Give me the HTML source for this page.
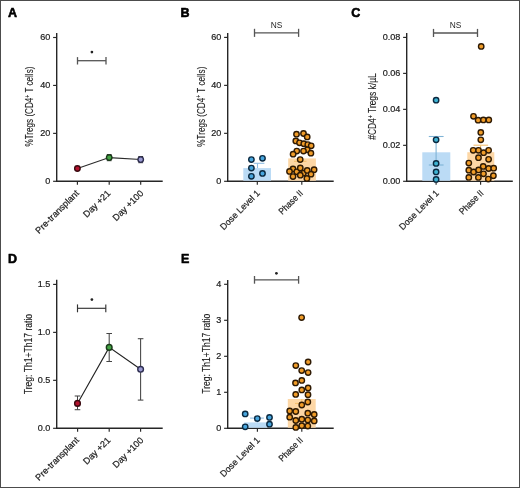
<!DOCTYPE html>
<html><head><meta charset="utf-8"><style>
html,body{margin:0;padding:0;background:#fff;}
body{width:520px;height:488px;overflow:hidden;position:relative;}
svg{position:absolute;left:0;top:0;will-change:transform;}
text{font-family:"Liberation Sans",sans-serif;}
.t{stroke:#1c1c1c;stroke-width:0.22px;}
.ty{stroke:#1c1c1c;stroke-width:0.12px;}
.frame{position:absolute;left:0;top:0;width:518px;height:486px;border:1px solid #4c4c4c;}
</style></head><body>
<svg width="520" height="488" viewBox="0 0 520 488">
<text x="7.9" y="16.7" font-size="12.5" font-weight="bold" fill="#000" stroke="#000" stroke-width="0.6" stroke-linejoin="round">A</text>
<text x="180.5" y="16.5" font-size="12.5" font-weight="bold" fill="#000" stroke="#000" stroke-width="0.6" stroke-linejoin="round">B</text>
<text x="351.3" y="16.6" font-size="12.5" font-weight="bold" fill="#000" stroke="#000" stroke-width="0.6" stroke-linejoin="round">C</text>
<text x="8.1" y="263.3" font-size="12.5" font-weight="bold" fill="#000" stroke="#000" stroke-width="0.6" stroke-linejoin="round">D</text>
<text x="180.9" y="263.3" font-size="12.5" font-weight="bold" fill="#000" stroke="#000" stroke-width="0.6" stroke-linejoin="round">E</text>
<line x1="56.70" y1="32.90" x2="56.70" y2="182.00" stroke="#262626" stroke-width="1.4" />
<line x1="56.00" y1="181.30" x2="162.70" y2="181.30" stroke="#262626" stroke-width="1.4" />
<line x1="53.10" y1="37.50" x2="56.70" y2="37.50" stroke="#262626" stroke-width="1.15" />
<text class="t" x="50.40" y="40.45" font-size="9.8" text-anchor="end" fill="#1c1c1c" font-weight="normal" textLength="10.12" lengthAdjust="spacingAndGlyphs" >60</text>
<line x1="53.10" y1="85.43" x2="56.70" y2="85.43" stroke="#262626" stroke-width="1.15" />
<text class="t" x="50.40" y="88.38" font-size="9.8" text-anchor="end" fill="#1c1c1c" font-weight="normal" textLength="10.12" lengthAdjust="spacingAndGlyphs" >40</text>
<line x1="53.10" y1="133.37" x2="56.70" y2="133.37" stroke="#262626" stroke-width="1.15" />
<text class="t" x="50.40" y="136.32" font-size="9.8" text-anchor="end" fill="#1c1c1c" font-weight="normal" textLength="10.12" lengthAdjust="spacingAndGlyphs" >20</text>
<line x1="53.10" y1="181.30" x2="56.70" y2="181.30" stroke="#262626" stroke-width="1.15" />
<text class="t" x="50.40" y="184.25" font-size="9.8" text-anchor="end" fill="#1c1c1c" font-weight="normal" textLength="5.06" lengthAdjust="spacingAndGlyphs" >0</text>
<line x1="77.40" y1="181.30" x2="77.40" y2="184.80" stroke="#262626" stroke-width="1.15" />
<line x1="109.20" y1="181.30" x2="109.20" y2="184.80" stroke="#262626" stroke-width="1.15" />
<line x1="140.70" y1="181.30" x2="140.70" y2="184.80" stroke="#262626" stroke-width="1.15" />
<text class="ty" transform="translate(33.40,106.55) rotate(-90)" font-size="10.3" text-anchor="middle" fill="#1c1c1c" textLength="80" lengthAdjust="spacingAndGlyphs">%Tregs (CD4<tspan font-size="6.5" dy="-3.2">+</tspan><tspan dy="3.2"> T cells)</tspan></text>
<line x1="77.50" y1="60.70" x2="106.00" y2="60.70" stroke="#555" stroke-width="1.3" />
<line x1="77.50" y1="57.10" x2="77.50" y2="64.50" stroke="#555" stroke-width="1.3" />
<line x1="106.00" y1="57.10" x2="106.00" y2="64.50" stroke="#555" stroke-width="1.3" />
<circle cx="91.9" cy="52.1" r="1.35" fill="#222"/>
<polyline points="77.4,168.5 109.2,157.6 140.7,159.5" fill="none" stroke="#2a2a2a" stroke-width="1.1"/>
<line x1="109.20" y1="154.50" x2="109.20" y2="160.70" stroke="#333" stroke-width="1" />
<line x1="106.80" y1="154.50" x2="111.60" y2="154.50" stroke="#333" stroke-width="1" />
<line x1="106.80" y1="160.70" x2="111.60" y2="160.70" stroke="#333" stroke-width="1" />
<line x1="140.70" y1="156.50" x2="140.70" y2="162.70" stroke="#333" stroke-width="1" />
<line x1="138.30" y1="156.50" x2="143.10" y2="156.50" stroke="#333" stroke-width="1" />
<line x1="138.30" y1="162.70" x2="143.10" y2="162.70" stroke="#333" stroke-width="1" />
<circle cx="77.40" cy="168.50" r="2.75" fill="#b4122e" stroke="#3a0a10" stroke-width="1.4"/>
<circle cx="109.20" cy="157.60" r="2.75" fill="#44a444" stroke="#1a3a1a" stroke-width="1.4"/>
<circle cx="140.70" cy="159.60" r="2.75" fill="#9a9ad2" stroke="#2e2e50" stroke-width="1.4"/>
<line x1="227.70" y1="32.90" x2="227.70" y2="182.00" stroke="#262626" stroke-width="1.4" />
<line x1="227.00" y1="181.30" x2="333.70" y2="181.30" stroke="#262626" stroke-width="1.4" />
<line x1="224.10" y1="37.40" x2="227.70" y2="37.40" stroke="#262626" stroke-width="1.15" />
<text class="t" x="221.40" y="40.35" font-size="9.8" text-anchor="end" fill="#1c1c1c" font-weight="normal" textLength="10.12" lengthAdjust="spacingAndGlyphs" >60</text>
<line x1="224.10" y1="85.37" x2="227.70" y2="85.37" stroke="#262626" stroke-width="1.15" />
<text class="t" x="221.40" y="88.32" font-size="9.8" text-anchor="end" fill="#1c1c1c" font-weight="normal" textLength="10.12" lengthAdjust="spacingAndGlyphs" >40</text>
<line x1="224.10" y1="133.33" x2="227.70" y2="133.33" stroke="#262626" stroke-width="1.15" />
<text class="t" x="221.40" y="136.28" font-size="9.8" text-anchor="end" fill="#1c1c1c" font-weight="normal" textLength="10.12" lengthAdjust="spacingAndGlyphs" >20</text>
<line x1="224.10" y1="181.30" x2="227.70" y2="181.30" stroke="#262626" stroke-width="1.15" />
<text class="t" x="221.40" y="184.25" font-size="9.8" text-anchor="end" fill="#1c1c1c" font-weight="normal" textLength="5.06" lengthAdjust="spacingAndGlyphs" >0</text>
<line x1="257.30" y1="181.30" x2="257.30" y2="184.80" stroke="#262626" stroke-width="1.15" />
<line x1="301.80" y1="181.30" x2="301.80" y2="184.80" stroke="#262626" stroke-width="1.15" />
<text class="ty" transform="translate(204.60,106.65) rotate(-90)" font-size="10.3" text-anchor="middle" fill="#1c1c1c" textLength="80" lengthAdjust="spacingAndGlyphs">%Tregs (CD4<tspan font-size="6.5" dy="-3.2">+</tspan><tspan dy="3.2"> T cells)</tspan></text>
<rect x="243.3" y="168.1" width="27.7" height="12.6" fill="#bbdbf5"/>
<rect x="288.2" y="158.4" width="27.7" height="22.3" fill="#fdd7a6"/>
<line x1="257.50" y1="163.30" x2="257.50" y2="168.10" stroke="#8fbde3" stroke-width="1.1" />
<line x1="253.70" y1="163.30" x2="264.40" y2="163.30" stroke="#8fbde3" stroke-width="1.1" />
<line x1="300.20" y1="158.40" x2="300.20" y2="161.30" stroke="#f4bf6a" stroke-width="1.0" />
<line x1="294.00" y1="161.30" x2="306.50" y2="161.30" stroke="#f4bf6a" stroke-width="1.0" />
<circle cx="251.40" cy="159.60" r="2.7" fill="#48a6de" stroke="#0b2940" stroke-width="1.4"/>
<circle cx="262.50" cy="158.30" r="2.7" fill="#48a6de" stroke="#0b2940" stroke-width="1.4"/>
<circle cx="251.40" cy="168.10" r="2.7" fill="#48a6de" stroke="#0b2940" stroke-width="1.4"/>
<circle cx="262.50" cy="173.40" r="2.7" fill="#48a6de" stroke="#0b2940" stroke-width="1.4"/>
<circle cx="251.40" cy="176.30" r="2.7" fill="#48a6de" stroke="#0b2940" stroke-width="1.4"/>
<circle cx="296.50" cy="134.20" r="2.7" fill="#f09c28" stroke="#2e1a04" stroke-width="1.4"/>
<circle cx="303.50" cy="133.50" r="2.7" fill="#f09c28" stroke="#2e1a04" stroke-width="1.4"/>
<circle cx="307.20" cy="136.90" r="2.7" fill="#f09c28" stroke="#2e1a04" stroke-width="1.4"/>
<circle cx="295.80" cy="140.90" r="2.7" fill="#f09c28" stroke="#2e1a04" stroke-width="1.4"/>
<circle cx="299.50" cy="142.80" r="2.7" fill="#f09c28" stroke="#2e1a04" stroke-width="1.4"/>
<circle cx="303.80" cy="143.70" r="2.7" fill="#f09c28" stroke="#2e1a04" stroke-width="1.4"/>
<circle cx="307.80" cy="144.60" r="2.7" fill="#f09c28" stroke="#2e1a04" stroke-width="1.4"/>
<circle cx="311.20" cy="145.80" r="2.7" fill="#f09c28" stroke="#2e1a04" stroke-width="1.4"/>
<circle cx="307.20" cy="149.80" r="2.7" fill="#f09c28" stroke="#2e1a04" stroke-width="1.4"/>
<circle cx="296.80" cy="151.10" r="2.7" fill="#f09c28" stroke="#2e1a04" stroke-width="1.4"/>
<circle cx="293.10" cy="154.20" r="2.7" fill="#f09c28" stroke="#2e1a04" stroke-width="1.4"/>
<circle cx="303.50" cy="151.10" r="2.7" fill="#f09c28" stroke="#2e1a04" stroke-width="1.4"/>
<circle cx="310.90" cy="153.20" r="2.7" fill="#f09c28" stroke="#2e1a04" stroke-width="1.4"/>
<circle cx="300.20" cy="159.60" r="2.7" fill="#f09c28" stroke="#2e1a04" stroke-width="1.4"/>
<circle cx="293.00" cy="169.00" r="2.7" fill="#f09c28" stroke="#2e1a04" stroke-width="1.4"/>
<circle cx="289.50" cy="171.40" r="2.7" fill="#f09c28" stroke="#2e1a04" stroke-width="1.4"/>
<circle cx="296.80" cy="171.80" r="2.7" fill="#f09c28" stroke="#2e1a04" stroke-width="1.4"/>
<circle cx="300.30" cy="168.00" r="2.7" fill="#f09c28" stroke="#2e1a04" stroke-width="1.4"/>
<circle cx="303.40" cy="173.20" r="2.7" fill="#f09c28" stroke="#2e1a04" stroke-width="1.4"/>
<circle cx="293.00" cy="176.60" r="2.7" fill="#f09c28" stroke="#2e1a04" stroke-width="1.4"/>
<circle cx="300.30" cy="175.20" r="2.7" fill="#f09c28" stroke="#2e1a04" stroke-width="1.4"/>
<circle cx="307.20" cy="170.40" r="2.7" fill="#f09c28" stroke="#2e1a04" stroke-width="1.4"/>
<circle cx="314.10" cy="169.70" r="2.7" fill="#f09c28" stroke="#2e1a04" stroke-width="1.4"/>
<circle cx="311.00" cy="174.20" r="2.7" fill="#f09c28" stroke="#2e1a04" stroke-width="1.4"/>
<circle cx="306.90" cy="178.40" r="2.7" fill="#f09c28" stroke="#2e1a04" stroke-width="1.4"/>
<line x1="254.50" y1="32.90" x2="298.60" y2="32.90" stroke="#555" stroke-width="1.3" />
<line x1="254.50" y1="28.80" x2="254.50" y2="36.90" stroke="#555" stroke-width="1.3" />
<line x1="298.60" y1="28.80" x2="298.60" y2="36.90" stroke="#555" stroke-width="1.3" />
<text x="276.5" y="28.1" font-size="9.0" text-anchor="middle" fill="#1e1e1e" textLength="11.6" lengthAdjust="spacingAndGlyphs">NS</text>
<line x1="406.70" y1="32.90" x2="406.70" y2="182.00" stroke="#262626" stroke-width="1.4" />
<line x1="406.00" y1="181.30" x2="512.80" y2="181.30" stroke="#262626" stroke-width="1.4" />
<line x1="403.10" y1="37.40" x2="406.70" y2="37.40" stroke="#262626" stroke-width="1.15" />
<text class="t" x="400.40" y="40.35" font-size="9.8" text-anchor="end" fill="#1c1c1c" font-weight="normal" textLength="17.71" lengthAdjust="spacingAndGlyphs" >0.08</text>
<line x1="403.10" y1="73.38" x2="406.70" y2="73.38" stroke="#262626" stroke-width="1.15" />
<text class="t" x="400.40" y="76.33" font-size="9.8" text-anchor="end" fill="#1c1c1c" font-weight="normal" textLength="17.71" lengthAdjust="spacingAndGlyphs" >0.06</text>
<line x1="403.10" y1="109.35" x2="406.70" y2="109.35" stroke="#262626" stroke-width="1.15" />
<text class="t" x="400.40" y="112.30" font-size="9.8" text-anchor="end" fill="#1c1c1c" font-weight="normal" textLength="17.71" lengthAdjust="spacingAndGlyphs" >0.04</text>
<line x1="403.10" y1="145.33" x2="406.70" y2="145.33" stroke="#262626" stroke-width="1.15" />
<text class="t" x="400.40" y="148.28" font-size="9.8" text-anchor="end" fill="#1c1c1c" font-weight="normal" textLength="17.71" lengthAdjust="spacingAndGlyphs" >0.02</text>
<line x1="403.10" y1="181.30" x2="406.70" y2="181.30" stroke="#262626" stroke-width="1.15" />
<text class="t" x="400.40" y="184.25" font-size="9.8" text-anchor="end" fill="#1c1c1c" font-weight="normal" textLength="17.71" lengthAdjust="spacingAndGlyphs" >0.00</text>
<line x1="436.10" y1="181.30" x2="436.10" y2="184.80" stroke="#262626" stroke-width="1.15" />
<line x1="480.60" y1="181.30" x2="480.60" y2="184.80" stroke="#262626" stroke-width="1.15" />
<text class="ty" transform="translate(376.00,106.55) rotate(-90)" font-size="10.3" text-anchor="middle" fill="#1c1c1c" textLength="66.5" lengthAdjust="spacingAndGlyphs">#CD4<tspan font-size="6.5" dy="-3.2">+</tspan><tspan dy="3.2"> Tregs k/µL</tspan></text>
<rect x="422.3" y="152.3" width="28" height="28.4" fill="#bbdbf5"/>
<rect x="467.3" y="152.2" width="27" height="28.5" fill="#fdd7a6"/>
<line x1="436.10" y1="136.50" x2="436.10" y2="165.00" stroke="#7fb3d6" stroke-width="1.1" />
<line x1="428.80" y1="136.50" x2="443.60" y2="136.50" stroke="#7fb3d6" stroke-width="1.1" />
<line x1="428.80" y1="165.00" x2="443.60" y2="165.00" stroke="#7fb3d6" stroke-width="1.1" />
<line x1="480.60" y1="145.20" x2="480.60" y2="152.20" stroke="#f5c070" stroke-width="1.1" />
<line x1="473.50" y1="145.20" x2="488.10" y2="145.20" stroke="#f5c070" stroke-width="1.1" />
<circle cx="436.10" cy="100.20" r="2.7" fill="#3eb3d3" stroke="#0b2940" stroke-width="1.4"/>
<circle cx="436.10" cy="139.80" r="2.7" fill="#3eb3d3" stroke="#0b2940" stroke-width="1.4"/>
<circle cx="436.10" cy="163.40" r="2.7" fill="#3eb3d3" stroke="#0b2940" stroke-width="1.4"/>
<circle cx="436.10" cy="171.90" r="2.7" fill="#3eb3d3" stroke="#0b2940" stroke-width="1.4"/>
<circle cx="436.10" cy="179.40" r="2.7" fill="#3eb3d3" stroke="#0b2940" stroke-width="1.4"/>
<circle cx="481.20" cy="46.40" r="2.7" fill="#f09c28" stroke="#2e1a04" stroke-width="1.4"/>
<circle cx="473.50" cy="116.30" r="2.7" fill="#f09c28" stroke="#2e1a04" stroke-width="1.4"/>
<circle cx="478.10" cy="120.20" r="2.7" fill="#f09c28" stroke="#2e1a04" stroke-width="1.4"/>
<circle cx="483.40" cy="119.90" r="2.7" fill="#f09c28" stroke="#2e1a04" stroke-width="1.4"/>
<circle cx="488.80" cy="119.90" r="2.7" fill="#f09c28" stroke="#2e1a04" stroke-width="1.4"/>
<circle cx="480.80" cy="132.40" r="2.7" fill="#f09c28" stroke="#2e1a04" stroke-width="1.4"/>
<circle cx="480.80" cy="139.80" r="2.7" fill="#f09c28" stroke="#2e1a04" stroke-width="1.4"/>
<circle cx="473.20" cy="150.30" r="2.7" fill="#f09c28" stroke="#2e1a04" stroke-width="1.4"/>
<circle cx="478.50" cy="150.30" r="2.7" fill="#f09c28" stroke="#2e1a04" stroke-width="1.4"/>
<circle cx="483.60" cy="152.70" r="2.7" fill="#f09c28" stroke="#2e1a04" stroke-width="1.4"/>
<circle cx="488.60" cy="150.30" r="2.7" fill="#f09c28" stroke="#2e1a04" stroke-width="1.4"/>
<circle cx="478.50" cy="157.70" r="2.7" fill="#f09c28" stroke="#2e1a04" stroke-width="1.4"/>
<circle cx="488.60" cy="159.30" r="2.7" fill="#f09c28" stroke="#2e1a04" stroke-width="1.4"/>
<circle cx="468.80" cy="163.10" r="2.7" fill="#f09c28" stroke="#2e1a04" stroke-width="1.4"/>
<circle cx="483.20" cy="166.40" r="2.7" fill="#f09c28" stroke="#2e1a04" stroke-width="1.4"/>
<circle cx="488.60" cy="168.50" r="2.7" fill="#f09c28" stroke="#2e1a04" stroke-width="1.4"/>
<circle cx="493.70" cy="168.20" r="2.7" fill="#f09c28" stroke="#2e1a04" stroke-width="1.4"/>
<circle cx="468.80" cy="170.20" r="2.7" fill="#f09c28" stroke="#2e1a04" stroke-width="1.4"/>
<circle cx="473.60" cy="172.00" r="2.7" fill="#f09c28" stroke="#2e1a04" stroke-width="1.4"/>
<circle cx="478.60" cy="169.90" r="2.7" fill="#f09c28" stroke="#2e1a04" stroke-width="1.4"/>
<circle cx="483.50" cy="173.80" r="2.7" fill="#f09c28" stroke="#2e1a04" stroke-width="1.4"/>
<circle cx="493.40" cy="175.70" r="2.7" fill="#f09c28" stroke="#2e1a04" stroke-width="1.4"/>
<circle cx="468.80" cy="177.40" r="2.7" fill="#f09c28" stroke="#2e1a04" stroke-width="1.4"/>
<circle cx="478.40" cy="177.40" r="2.7" fill="#f09c28" stroke="#2e1a04" stroke-width="1.4"/>
<circle cx="488.30" cy="179.10" r="2.7" fill="#f09c28" stroke="#2e1a04" stroke-width="1.4"/>
<line x1="433.50" y1="33.00" x2="477.50" y2="33.00" stroke="#555" stroke-width="1.3" />
<line x1="433.50" y1="28.90" x2="433.50" y2="37.00" stroke="#555" stroke-width="1.3" />
<line x1="477.50" y1="28.90" x2="477.50" y2="37.00" stroke="#555" stroke-width="1.3" />
<text x="455.5" y="28.1" font-size="9.0" text-anchor="middle" fill="#1e1e1e" textLength="11.6" lengthAdjust="spacingAndGlyphs">NS</text>
<line x1="56.70" y1="279.80" x2="56.70" y2="429.00" stroke="#262626" stroke-width="1.4" />
<line x1="56.00" y1="428.30" x2="162.70" y2="428.30" stroke="#262626" stroke-width="1.4" />
<line x1="53.10" y1="284.40" x2="56.70" y2="284.40" stroke="#262626" stroke-width="1.15" />
<text class="t" x="50.40" y="287.35" font-size="9.8" text-anchor="end" fill="#1c1c1c" font-weight="normal" textLength="12.65" lengthAdjust="spacingAndGlyphs" >1.5</text>
<line x1="53.10" y1="332.37" x2="56.70" y2="332.37" stroke="#262626" stroke-width="1.15" />
<text class="t" x="50.40" y="335.32" font-size="9.8" text-anchor="end" fill="#1c1c1c" font-weight="normal" textLength="12.65" lengthAdjust="spacingAndGlyphs" >1.0</text>
<line x1="53.10" y1="380.33" x2="56.70" y2="380.33" stroke="#262626" stroke-width="1.15" />
<text class="t" x="50.40" y="383.28" font-size="9.8" text-anchor="end" fill="#1c1c1c" font-weight="normal" textLength="12.65" lengthAdjust="spacingAndGlyphs" >0.5</text>
<line x1="53.10" y1="428.30" x2="56.70" y2="428.30" stroke="#262626" stroke-width="1.15" />
<text class="t" x="50.40" y="431.25" font-size="9.8" text-anchor="end" fill="#1c1c1c" font-weight="normal" textLength="12.65" lengthAdjust="spacingAndGlyphs" >0.0</text>
<line x1="77.60" y1="428.30" x2="77.60" y2="431.80" stroke="#262626" stroke-width="1.15" />
<line x1="109.20" y1="428.30" x2="109.20" y2="431.80" stroke="#262626" stroke-width="1.15" />
<line x1="140.60" y1="428.30" x2="140.60" y2="431.80" stroke="#262626" stroke-width="1.15" />
<text class="ty" transform="translate(31.80,354.10) rotate(-90)" font-size="10.3" text-anchor="middle" fill="#1c1c1c" textLength="80.4" lengthAdjust="spacingAndGlyphs">Treg: Th1+Th17 ratio</text>
<line x1="77.50" y1="308.30" x2="105.80" y2="308.30" stroke="#333" stroke-width="1.15" />
<line x1="77.50" y1="304.40" x2="77.50" y2="312.30" stroke="#333" stroke-width="1.15" />
<line x1="105.80" y1="304.40" x2="105.80" y2="312.30" stroke="#333" stroke-width="1.15" />
<circle cx="91.9" cy="299.6" r="1.35" fill="#222"/>
<polyline points="77.5,403.4 109.2,347.4 140.6,369.3" fill="none" stroke="#222" stroke-width="1.1"/>
<line x1="77.50" y1="396.00" x2="77.50" y2="409.70" stroke="#444" stroke-width="1.05" />
<line x1="74.70" y1="396.00" x2="80.30" y2="396.00" stroke="#444" stroke-width="1.05" />
<line x1="74.70" y1="409.70" x2="80.30" y2="409.70" stroke="#444" stroke-width="1.05" />
<line x1="109.20" y1="333.50" x2="109.20" y2="361.50" stroke="#444" stroke-width="1.05" />
<line x1="106.40" y1="333.50" x2="112.00" y2="333.50" stroke="#444" stroke-width="1.05" />
<line x1="106.40" y1="361.50" x2="112.00" y2="361.50" stroke="#444" stroke-width="1.05" />
<line x1="140.60" y1="338.70" x2="140.60" y2="400.10" stroke="#444" stroke-width="1.05" />
<line x1="137.80" y1="338.70" x2="143.40" y2="338.70" stroke="#444" stroke-width="1.05" />
<line x1="137.80" y1="400.10" x2="143.40" y2="400.10" stroke="#444" stroke-width="1.05" />
<circle cx="77.50" cy="403.40" r="2.85" fill="#b4122e" stroke="#3a0a10" stroke-width="1.4"/>
<circle cx="109.20" cy="347.40" r="2.85" fill="#44a444" stroke="#1a3a1a" stroke-width="1.4"/>
<circle cx="140.60" cy="369.30" r="2.85" fill="#9a9ad2" stroke="#2e2e50" stroke-width="1.4"/>
<line x1="227.70" y1="279.90" x2="227.70" y2="429.00" stroke="#262626" stroke-width="1.4" />
<line x1="227.00" y1="428.30" x2="333.70" y2="428.30" stroke="#262626" stroke-width="1.4" />
<line x1="224.10" y1="284.30" x2="227.70" y2="284.30" stroke="#262626" stroke-width="1.15" />
<text class="t" x="221.40" y="287.25" font-size="9.8" text-anchor="end" fill="#1c1c1c" font-weight="normal" textLength="5.06" lengthAdjust="spacingAndGlyphs" >4</text>
<line x1="224.10" y1="320.30" x2="227.70" y2="320.30" stroke="#262626" stroke-width="1.15" />
<text class="t" x="221.40" y="323.25" font-size="9.8" text-anchor="end" fill="#1c1c1c" font-weight="normal" textLength="5.06" lengthAdjust="spacingAndGlyphs" >3</text>
<line x1="224.10" y1="356.30" x2="227.70" y2="356.30" stroke="#262626" stroke-width="1.15" />
<text class="t" x="221.40" y="359.25" font-size="9.8" text-anchor="end" fill="#1c1c1c" font-weight="normal" textLength="5.06" lengthAdjust="spacingAndGlyphs" >2</text>
<line x1="224.10" y1="392.30" x2="227.70" y2="392.30" stroke="#262626" stroke-width="1.15" />
<text class="t" x="221.40" y="395.25" font-size="9.8" text-anchor="end" fill="#1c1c1c" font-weight="normal" textLength="5.06" lengthAdjust="spacingAndGlyphs" >1</text>
<line x1="224.10" y1="428.30" x2="227.70" y2="428.30" stroke="#262626" stroke-width="1.15" />
<text class="t" x="221.40" y="431.25" font-size="9.8" text-anchor="end" fill="#1c1c1c" font-weight="normal" textLength="5.06" lengthAdjust="spacingAndGlyphs" >0</text>
<line x1="257.40" y1="428.30" x2="257.40" y2="431.80" stroke="#262626" stroke-width="1.15" />
<line x1="301.80" y1="428.30" x2="301.80" y2="431.80" stroke="#262626" stroke-width="1.15" />
<text class="ty" transform="translate(209.60,353.75) rotate(-90)" font-size="10.3" text-anchor="middle" fill="#1c1c1c" textLength="80" lengthAdjust="spacingAndGlyphs">Treg: Th1+Th17 ratio</text>
<line x1="254.50" y1="279.80" x2="298.60" y2="279.80" stroke="#555" stroke-width="1.3" />
<line x1="254.50" y1="276.00" x2="254.50" y2="283.70" stroke="#555" stroke-width="1.3" />
<line x1="298.60" y1="276.00" x2="298.60" y2="283.70" stroke="#555" stroke-width="1.3" />
<circle cx="276.4" cy="273.3" r="1.35" fill="#222"/>
<rect x="244.2" y="422.4" width="22.8" height="5.3" fill="#bbdbf5"/>
<rect x="287.8" y="399.0" width="27.9" height="28.7" fill="#fdd7a6"/>
<line x1="250.10" y1="418.10" x2="263.90" y2="418.10" stroke="#8fbde3" stroke-width="1.1" />
<line x1="257.30" y1="418.10" x2="257.30" y2="422.40" stroke="#8fbde3" stroke-width="1.1" />
<line x1="301.80" y1="399.00" x2="301.80" y2="403.40" stroke="#f4bf6a" stroke-width="1.0" />
<line x1="295.00" y1="403.40" x2="308.60" y2="403.40" stroke="#f4bf6a" stroke-width="1.0" />
<circle cx="245.20" cy="413.90" r="2.7" fill="#48a6de" stroke="#0b2940" stroke-width="1.4"/>
<circle cx="257.30" cy="418.60" r="2.7" fill="#48a6de" stroke="#0b2940" stroke-width="1.4"/>
<circle cx="269.50" cy="417.40" r="2.7" fill="#48a6de" stroke="#0b2940" stroke-width="1.4"/>
<circle cx="269.50" cy="424.20" r="2.7" fill="#48a6de" stroke="#0b2940" stroke-width="1.4"/>
<circle cx="245.20" cy="426.80" r="2.7" fill="#48a6de" stroke="#0b2940" stroke-width="1.4"/>
<circle cx="301.60" cy="317.60" r="2.7" fill="#f09c28" stroke="#2e1a04" stroke-width="1.4"/>
<circle cx="308.10" cy="362.00" r="2.7" fill="#f09c28" stroke="#2e1a04" stroke-width="1.4"/>
<circle cx="295.80" cy="365.60" r="2.7" fill="#f09c28" stroke="#2e1a04" stroke-width="1.4"/>
<circle cx="301.70" cy="370.60" r="2.7" fill="#f09c28" stroke="#2e1a04" stroke-width="1.4"/>
<circle cx="308.10" cy="372.60" r="2.7" fill="#f09c28" stroke="#2e1a04" stroke-width="1.4"/>
<circle cx="301.80" cy="380.40" r="2.7" fill="#f09c28" stroke="#2e1a04" stroke-width="1.4"/>
<circle cx="295.50" cy="382.90" r="2.7" fill="#f09c28" stroke="#2e1a04" stroke-width="1.4"/>
<circle cx="301.80" cy="389.90" r="2.7" fill="#f09c28" stroke="#2e1a04" stroke-width="1.4"/>
<circle cx="308.10" cy="388.00" r="2.7" fill="#f09c28" stroke="#2e1a04" stroke-width="1.4"/>
<circle cx="295.70" cy="394.40" r="2.7" fill="#f09c28" stroke="#2e1a04" stroke-width="1.4"/>
<circle cx="308.00" cy="394.70" r="2.7" fill="#f09c28" stroke="#2e1a04" stroke-width="1.4"/>
<circle cx="307.80" cy="402.00" r="2.7" fill="#f09c28" stroke="#2e1a04" stroke-width="1.4"/>
<circle cx="301.80" cy="405.00" r="2.7" fill="#f09c28" stroke="#2e1a04" stroke-width="1.4"/>
<circle cx="289.70" cy="411.00" r="2.7" fill="#f09c28" stroke="#2e1a04" stroke-width="1.4"/>
<circle cx="295.80" cy="411.50" r="2.7" fill="#f09c28" stroke="#2e1a04" stroke-width="1.4"/>
<circle cx="307.80" cy="413.20" r="2.7" fill="#f09c28" stroke="#2e1a04" stroke-width="1.4"/>
<circle cx="314.20" cy="414.50" r="2.7" fill="#f09c28" stroke="#2e1a04" stroke-width="1.4"/>
<circle cx="289.70" cy="417.20" r="2.7" fill="#f09c28" stroke="#2e1a04" stroke-width="1.4"/>
<circle cx="295.80" cy="420.50" r="2.7" fill="#f09c28" stroke="#2e1a04" stroke-width="1.4"/>
<circle cx="301.80" cy="419.20" r="2.7" fill="#f09c28" stroke="#2e1a04" stroke-width="1.4"/>
<circle cx="307.80" cy="420.10" r="2.7" fill="#f09c28" stroke="#2e1a04" stroke-width="1.4"/>
<circle cx="314.20" cy="420.90" r="2.7" fill="#f09c28" stroke="#2e1a04" stroke-width="1.4"/>
<circle cx="295.80" cy="427.40" r="2.7" fill="#f09c28" stroke="#2e1a04" stroke-width="1.4"/>
<circle cx="301.80" cy="425.70" r="2.7" fill="#f09c28" stroke="#2e1a04" stroke-width="1.4"/>
<circle cx="307.80" cy="426.10" r="2.7" fill="#f09c28" stroke="#2e1a04" stroke-width="1.4"/>
<text class="t" transform="translate(79.50,193.80) rotate(-45)" font-size="9.1" text-anchor="end" fill="#1c1c1c">Pre-transplant</text>
<text class="t" transform="translate(111.00,193.80) rotate(-45)" font-size="9.1" text-anchor="end" fill="#1c1c1c">Day +21</text>
<text class="t" transform="translate(144.00,193.80) rotate(-45)" font-size="9.1" text-anchor="end" fill="#1c1c1c">Day +100</text>
<text class="t" transform="translate(260.50,193.80) rotate(-45)" font-size="9.1" text-anchor="end" fill="#1c1c1c" textLength="52" lengthAdjust="spacingAndGlyphs">Dose Level 1</text>
<text class="t" transform="translate(303.50,193.80) rotate(-45)" font-size="9.1" text-anchor="end" fill="#1c1c1c" textLength="30" lengthAdjust="spacingAndGlyphs">Phase II</text>
<text class="t" transform="translate(439.50,193.80) rotate(-45)" font-size="9.1" text-anchor="end" fill="#1c1c1c" textLength="52" lengthAdjust="spacingAndGlyphs">Dose Level 1</text>
<text class="t" transform="translate(484.00,193.80) rotate(-45)" font-size="9.1" text-anchor="end" fill="#1c1c1c" textLength="30" lengthAdjust="spacingAndGlyphs">Phase II</text>
<text class="t" transform="translate(79.50,440.80) rotate(-45)" font-size="9.1" text-anchor="end" fill="#1c1c1c">Pre-transplant</text>
<text class="t" transform="translate(111.00,440.80) rotate(-45)" font-size="9.1" text-anchor="end" fill="#1c1c1c">Day +21</text>
<text class="t" transform="translate(144.00,440.80) rotate(-45)" font-size="9.1" text-anchor="end" fill="#1c1c1c">Day +100</text>
<text class="t" transform="translate(260.50,440.80) rotate(-45)" font-size="9.1" text-anchor="end" fill="#1c1c1c" textLength="52" lengthAdjust="spacingAndGlyphs">Dose Level 1</text>
<text class="t" transform="translate(303.50,440.80) rotate(-45)" font-size="9.1" text-anchor="end" fill="#1c1c1c" textLength="30" lengthAdjust="spacingAndGlyphs">Phase II</text>
</svg>
<div class="frame"></div>
</body></html>
